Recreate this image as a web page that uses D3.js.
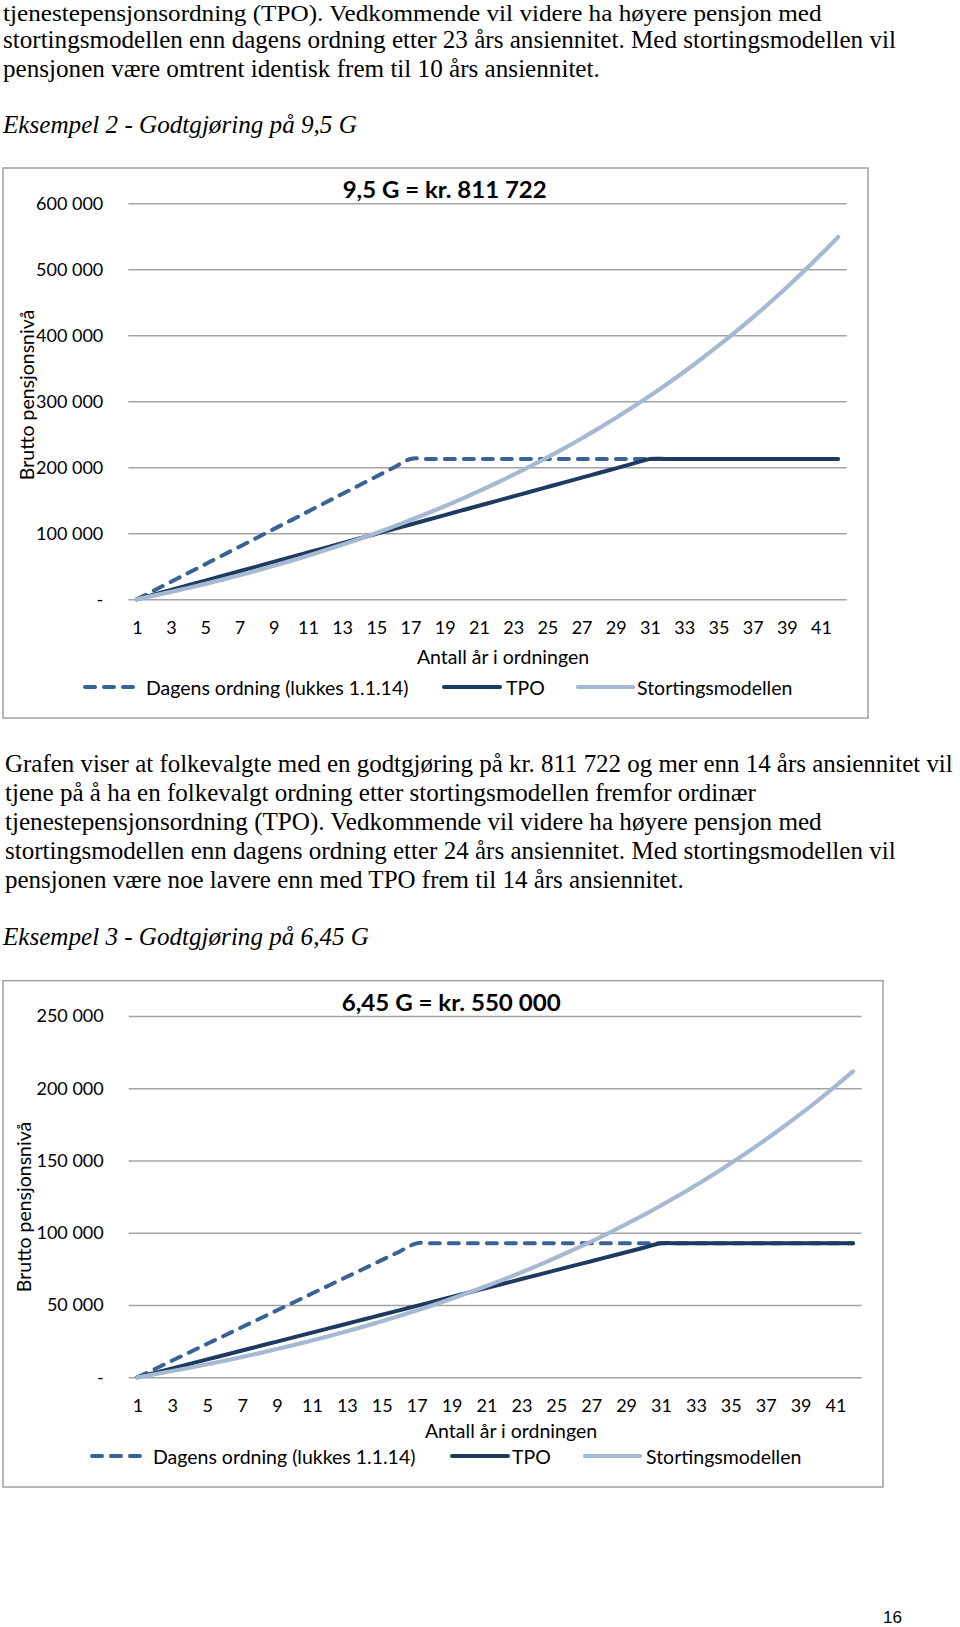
<!DOCTYPE html>
<html>
<head>
<meta charset="utf-8">
<script src="https://cdn.jsdelivr.net/npm/d3@7/dist/d3.min.js"></script>
<style>
  html, body { margin: 0; padding: 0; background: #fff; }
  svg { display: block; }
</style>
</head>
<body>
<svg id="page" width="960" height="1627"></svg>
<script>
// ---------------- DATA ----------------
const years = [1,2,3,4,5,6,7,8,9,10,11,12,13,14,15,16,17,18,19,20,21,22,23,24,25,26,27,28,29,30,31,32,33,34,35,36,37,38,39,40,41,42];
const yearTickLabels = [1,3,5,7,9,11,13,15,17,19,21,23,25,27,29,31,33,35,37,39,41];
const seriesNames = ["Dagens ordning (lukkes 1.1.14)", "TPO", "Stortingsmodellen"];

// Eksempel 2 - 9,5 G
const ex2Title = "9,5 G = kr. 811 722";
const ex2YTicks = [0, 100000, 200000, 300000, 400000, 500000, 600000];
const ex2Dagens = [0,13290,26580,39860,53150,66440,79730,93010,106300,119590,132880,146160,159450,172740,186030,199310,212600,
  212600,212600,212600,212600,212600,212600,212600,212600,212600,212600,212600,212600,212600,212600,212600,212600,212600,212600,212600,212600,212600,212600,212600,212600,212600];
const ex2TPO = [0,7090,14170,21260,28350,35430,42520,49610,56690,63780,70870,77950,85040,92130,99210,106300,113390,120470,127560,134650,141730,148820,155910,162990,170080,177170,184250,191340,198430,205510,212600,
  212600,212600,212600,212600,212600,212600,212600,212600,212600,212600,212600];
const ex2Storting = [0,5500,11220,17170,23360,29790,36480,43440,50680,58200,66030,74180,82640,91450,100610,110130,120040,130340,141050,152190,163780,175830,188360,201400,214950,229050,243710,258960,274820,291310,308470,326310,344860,364150,384220,405090,426790,449360,472840,497250,522640,549050];

// Eksempel 3 - 6,45 G
const ex3Title = "6,45 G = kr. 550 000";
const ex3YTicks = [0, 50000, 100000, 150000, 200000, 250000];
const ex3Dagens = [0,5790,11590,17380,23180,28970,34760,40560,46350,52140,57940,63730,69530,75320,81110,86910,92700,
  92700,92700,92700,92700,92700,92700,92700,92700,92700,92700,92700,92700,92700,92700,92700,92700,92700,92700,92700,92700,92700,92700,92700,92700,92700];
const ex3TPO = [0,3090,6180,9270,12360,15450,18540,21630,24720,27810,30900,33990,37080,40170,43260,46350,49440,52530,55620,58710,61800,64890,67980,71070,74160,77250,80340,83430,86520,89610,92700,
  92700,92700,92700,92700,92700,92700,92700,92700,92700,92700,92700];
const ex3Storting = [0,2120,4320,6620,9000,11480,14060,16740,19530,22440,25450,28590,31850,35250,38780,42450,46270,50240,54370,58660,63130,67780,72610,77630,82860,88290,93940,99820,105930,112290,118900,125780,132930,140360,148100,156140,164510,173210,182260,191670,201450,211630];

const yTitle = "Brutto pensjonsnivå";
const xTitle = "Antall år i ordningen";

const paraTop = [
  "tjenestepensjonsordning (TPO). Vedkommende vil videre ha høyere pensjon med",
  "stortingsmodellen enn dagens ordning etter 23 års ansiennitet. Med stortingsmodellen vil",
  "pensjonen være omtrent identisk frem til 10 års ansiennitet."
];
const heading2 = "Eksempel 2 - Godtgjøring på 9,5 G";
const paraMid = [
  "Grafen viser at folkevalgte med en godtgjøring på kr. 811 722 og mer enn 14 års ansiennitet vil",
  "tjene på å ha en folkevalgt ordning etter stortingsmodellen fremfor ordinær",
  "tjenestepensjonsordning (TPO). Vedkommende vil videre ha høyere pensjon med",
  "stortingsmodellen enn dagens ordning etter 24 års ansiennitet. Med stortingsmodellen vil",
  "pensjonen være noe lavere enn med TPO frem til 14 års ansiennitet."
];
const heading3 = "Eksempel 3 - Godtgjøring på 6,45 G";
const pageNumber = "16";

// ---------------- STYLE ----------------
const colors = { dagens: "#3a6395", tpo: "#1f3a60", storting: "#a7b8d3", grid: "#a3a3a3", frame: "#a0a0a0", text: "#000" };
const chartFont = "Lato, 'Open Sans', sans-serif";
const serif = "'Liberation Serif', 'DejaVu Serif', serif";

const svg = d3.select("#page");
svg.append("rect").attr("width", 960).attr("height", 1627).attr("fill", "#fff");

// ---------------- PARAGRAPHS ----------------
// each line is scaled horizontally so it spans the same width as in the reference
function para(lines, x, baselines, widths, italic, size) {
  lines.forEach((t, i) => {
    const g = svg.append("g");
    const txt = g.append("text")
      .attr("x", 0).attr("y", 0)
      .attr("font-family", serif).attr("font-size", size || 26)
      .attr("font-style", italic ? "italic" : "normal")
      .attr("fill", "#000")
      .text(t);
    const natural = txt.node().getComputedTextLength();
    const sx = natural > 0 ? widths[i] / natural : 1;
    g.attr("transform", `translate(${x},${baselines[i]}) scale(${sx},1)`);
  });
}
para([paraTop[0]], 3, [21], [819], false, 23);
para(paraTop.slice(1), 3, [48, 76.5], [893, 597], false, 25);
para([heading2], 3, [133], [354], true);
para(paraMid, 5, [772, 801, 830, 859, 888], [948, 751, 817, 891, 679]);
para([heading3], 3, [945], [366], true);

svg.append("text").attr("x", 892.5).attr("y", 1623).attr("text-anchor", "middle")
  .attr("font-family", "'Liberation Sans', Arial, sans-serif").attr("font-size", 17).text(pageNumber);

// ---------------- CHARTS ----------------
const fmtLocale = d3.formatLocale({ decimal: ",", thousands: " ", grouping: [3], currency: ["", " kr"] });
const fmt = fmtLocale.format(",");
const tickFmt = v => v === 0 ? "-" : fmt(v);

function drawChart(cfg) {
  const g = svg.append("g");
  // frame
  g.append("rect")
    .attr("x", cfg.frame[0]).attr("y", cfg.frame[1])
    .attr("width", cfg.frame[2] - cfg.frame[0]).attr("height", cfg.frame[3] - cfg.frame[1])
    .attr("fill", "#fff").attr("stroke", colors.frame).attr("stroke-width", 1.5);

  const x = d3.scalePoint().domain(years).range([cfg.plot[0], cfg.plot[2]]).padding(0.5);
  const y = d3.scaleLinear().domain([0, cfg.yMax]).range([cfg.plot[3], cfg.plot[1]]);

  // y axis with gridlines
  const yAxis = d3.axisLeft(y).tickValues(cfg.yTicks).tickFormat(tickFmt)
    .tickSize(-(cfg.plot[2] - cfg.plot[0])).tickPadding(25);
  const ya = g.append("g").attr("transform", `translate(${cfg.plot[0]},0)`).call(yAxis);
  ya.select(".domain").remove();
  ya.selectAll(".tick line").attr("stroke", colors.grid).attr("stroke-width", 1.4);
  ya.selectAll(".tick text").attr("font-family", chartFont).attr("font-size", 18).attr("fill", "#000");

  // x axis labels
  const xAxis = d3.axisBottom(x).tickValues(yearTickLabels).tickSize(0).tickPadding(21.5);
  const xa = g.append("g").attr("transform", `translate(0,${cfg.plot[3]})`).call(xAxis);
  xa.select(".domain").remove();
  xa.selectAll(".tick text").attr("font-family", chartFont).attr("font-size", 18).attr("fill", "#000");

  // lines
  const line = d3.line().x((d, i) => x(years[i])).y(d => y(d)).curve(d3.curveCardinal.tension(0));
  const series = [
    { data: cfg.dagens, color: colors.dagens, dash: "10,9", w: 4 },
    { data: cfg.tpo, color: colors.tpo, dash: null, w: 4 },
    { data: cfg.storting, color: colors.storting, dash: null, w: 4.2 }
  ];
  series.forEach(s => {
    g.append("path").datum(s.data)
      .attr("d", line).attr("fill", "none")
      .attr("stroke", s.color).attr("stroke-width", s.w)
      .attr("stroke-linecap", "round").attr("stroke-linejoin", "round")
      .attr("stroke-dasharray", s.dash);
  });

  // titles
  g.append("text").attr("x", cfg.titlePos[0]).attr("y", cfg.titlePos[1])
    .attr("dominant-baseline", "central")
    .attr("font-family", chartFont).attr("font-weight", "bold").attr("font-size", 23)
    .attr("textLength", cfg.titlePos[2]).attr("lengthAdjust", "spacingAndGlyphs")
    .text(cfg.title);

  g.append("text").attr("x", cfg.xTitlePos[0]).attr("y", cfg.xTitlePos[1])
    .attr("text-anchor", "middle").attr("dominant-baseline", "central")
    .attr("font-family", chartFont).attr("font-size", 19.5).text(xTitle);

  g.append("text")
    .attr("transform", `translate(${cfg.yTitlePos[0]},${cfg.yTitlePos[1]}) rotate(-90)`)
    .attr("text-anchor", "middle").attr("dominant-baseline", "central")
    .attr("font-family", chartFont).attr("font-size", 19.5).text(yTitle);

  // legend
  cfg.legend.forEach((L, i) => {
    const s = series[i];
    g.append("line").attr("x1", L[0]).attr("x2", L[1]).attr("y1", cfg.legendY).attr("y2", cfg.legendY)
      .attr("stroke", s.color).attr("stroke-width", s.w)
      .attr("stroke-linecap", "round").attr("stroke-dasharray", s.dash);
    g.append("text").attr("x", L[2]).attr("y", cfg.legendY)
      .attr("dominant-baseline", "central")
      .attr("font-family", chartFont).attr("font-size", 19.5).text(seriesNames[i]);
  });
}

drawChart({
  frame: [3, 168, 868, 718],
  plot: [128.3, 203.3, 846.7, 599.3],
  yMax: 600000, yTicks: ex2YTicks,
  dagens: ex2Dagens, tpo: ex2TPO, storting: ex2Storting,
  title: ex2Title, titlePos: [342.7, 189, 204],
  xTitlePos: [503, 656], yTitlePos: [26.5, 395],
  legendY: 687, legend: [[85, 133, 146], [444, 500, 506], [578, 633, 637]]
});

drawChart({
  frame: [3, 980.7, 883, 1487],
  plot: [128.7, 1016, 861.7, 1377.3],
  yMax: 250000, yTicks: ex3YTicks,
  dagens: ex3Dagens, tpo: ex3TPO, storting: ex3Storting,
  title: ex3Title, titlePos: [341.7, 1001.7, 219],
  xTitlePos: [511, 1430], yTitlePos: [23.5, 1207],
  legendY: 1456, legend: [[92, 140, 153], [452, 508, 512], [585, 640, 646]]
});
</script>
</body>
</html>
